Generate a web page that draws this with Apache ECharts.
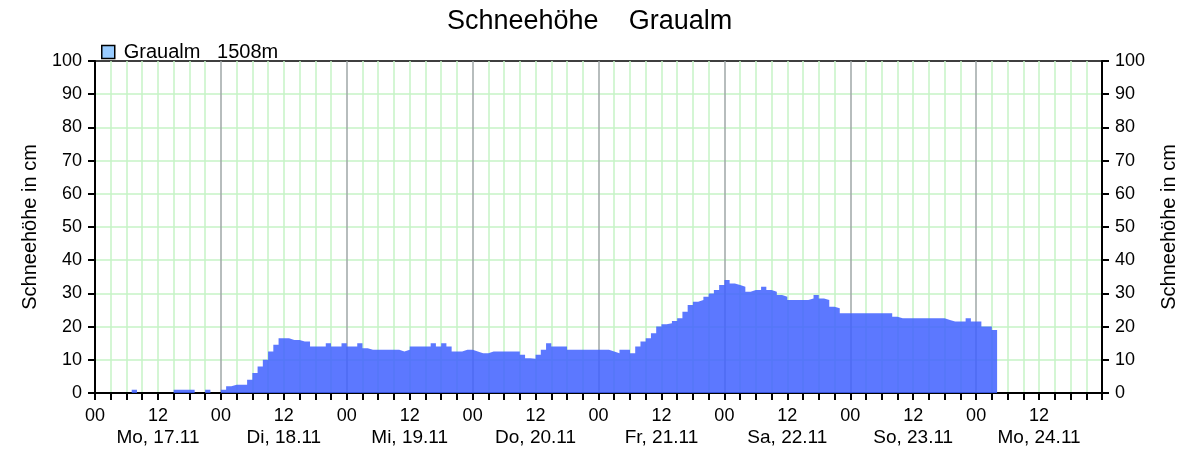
<!DOCTYPE html>
<html>
<head>
<meta charset="utf-8">
<script src="https://cdn.jsdelivr.net/npm/echarts@6/dist/echarts.min.js"></script>
<style>
html,body{margin:0;padding:0;background:#fff;}
#chart{width:1200px;height:459px;}
</style>
</head>
<body>
<div id="chart"></div>
<script>
// Hourly snow depth (cm), one array per day, starting at 00 h
const mo17 = [0,0,0,0,0,0,0,1,0,0,0,0,0,0,0,1,1,1,1,0,0,1,0,0];
const di18 = [1,2,2.5,2.5,2.5,4,6,8,10,12.5,14.5,16.5,16.5,16,16,15.5,15.5,14,14,14,15,14,14,15];
const mi19 = [14,14,15,13.5,13,13,13,13,13,13,12.5,13,14,14,14,14,15,14,15,14,12.5,12.5,13,13];
const do20 = [12.5,12,12,12.5,12.5,12.5,12.5,12.5,12.5,11.5,10.5,10.3,11.5,13,15,14,14,14,13,13,13,13,13,13];
const fr21 = [13,13,12.5,12,13,13,12,14,15.5,16.5,18,20,20.7,21,21.7,22.5,24.5,26.5,27.5,28,29,30,31,32.5];
const sa22 = [34,33,32.5,32,30.5,31,31,32,31,30.5,29.5,29,28,28,28,28,28.5,29.5,28.5,28,26,25.5,24,24];
const so23 = [24,24,24,24,24,24,24,24,23,22.5,22.5,22.5,22.5,22.5,22.5,22.5,22.5,22.5,22,21.5,21.5,21.5,22.5,21.5];
const mo24 = [21.5,20,20,19,19];

const dayLabels = ['Mo, 17.11','Di, 18.11','Mi, 19.11','Do, 20.11','Fr, 21.11','Sa, 22.11','So, 23.11','Mo, 24.11'];
const yTicks = [0,10,20,30,40,50,60,70,80,90,100];

const values = [].concat(mo17, di18, mi19, do20, fr21, sa22, so23, mo24);
const seriesData = values.map((v, i) => [i, v]);

const FONT = '"Liberation Sans", Arial, sans-serif';
const GREEN = '#c6f3c6';
const GREY = '#9fa7a7';

const chart = echarts.init(document.getElementById('chart'), null, {renderer: 'canvas'});

const yAxisCommon = {
  type: 'value', min: 0, max: 100, interval: 10,
  axisLine: {show: true, lineStyle: {color: '#000', width: 2}},
  axisTick: {show: true, length: 7, lineStyle: {color: '#000', width: 2}},
  axisLabel: {fontFamily: FONT, fontSize: 18, color: '#000', margin: 13,
    formatter: v => yTicks.indexOf(v) >= 0 ? String(v) : ''},
  name: 'Schneehöhe in cm', nameLocation: 'middle',
  nameTextStyle: {fontFamily: FONT, fontSize: 20, color: '#000'}
};

chart.setOption({
  animation: false,
  backgroundColor: '#fff',
  title: {
    text: 'Schneehöhe    Graualm',
    left: 442, top: 3,
    textStyle: {fontFamily: FONT, fontSize: 27, fontWeight: 'normal', color: '#000'}
  },
  legend: {
    left: 96, top: 37,
    icon: 'rect', itemWidth: 13, itemHeight: 13,
    data: [{name: 'Graualm   1508m', itemStyle: {color: '#99ccff', borderColor: '#000', borderWidth: 1.5}}],
    textStyle: {fontFamily: FONT, fontSize: 20, color: '#000', padding: [0,0,0,4]}
  },
  grid: {left: 95, right: 98, top: 61, bottom: 66, show: true, borderColor: '#000', borderWidth: 1.5, containLabel: false},
  xAxis: {
    type: 'value', min: 0, max: 192, interval: 3,
    axisLine: {show: true, lineStyle: {color: '#000', width: 2}},
    axisTick: {show: true, length: 7, lineStyle: {color: '#000', width: 2}},
    splitLine: {show: true,
      lineStyle: {color: [GREY, GREEN, GREEN, GREEN, GREEN, GREEN, GREEN, GREEN], width: 1.5}},
    axisLabel: {
      fontFamily: FONT, color: '#000', margin: 12,
      showMaxLabel: true, showMinLabel: true,
      rich: {
        a: {fontFamily: FONT, fontSize: 18, lineHeight: 22, color: '#000'},
        d: {fontFamily: FONT, fontSize: 19, lineHeight: 22, color: '#000'}
      },
      formatter: v => {
        if (v >= 192) return '';
        const h = v % 24;
        if (h === 0) return '{a|00}';
        if (h === 12) return '{a|12}\n{d|' + dayLabels[Math.floor(v / 24)] + '}';
        return '';
      }
    }
  },
  yAxis: [
    Object.assign({}, yAxisCommon, {position: 'left', nameGap: 55,
      splitLine: {show: true, showMaxLine: false, lineStyle: {color: GREEN, width: 1.5}}}),
    Object.assign({}, yAxisCommon, {position: 'right', nameGap: 57, nameRotate: 90,
      splitLine: {show: false}})
  ],
  series: [{
    name: 'Graualm   1508m',
    type: 'line',
    step: 'end',
    yAxisIndex: 0,
    data: seriesData,
    symbol: 'none',
    color: '#99ccff',
    lineStyle: {width: 0, color: 'rgba(64,96,255,0.85)'},
    areaStyle: {color: 'rgba(64,96,255,0.85)', opacity: 1}
  }]
});
</script>
</body>
</html>
